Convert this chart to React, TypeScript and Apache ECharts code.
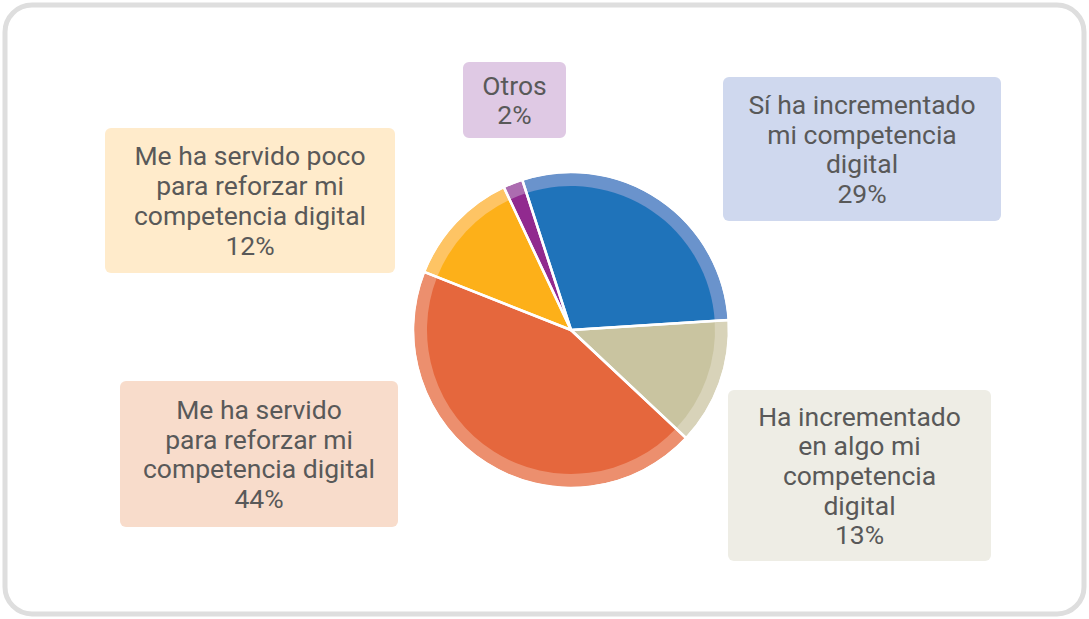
import React, { useEffect, useRef } from "react";
import * as echarts from "echarts";

const categories = [
  "Sí ha incrementado\nmi competencia\ndigital",
  "Ha incrementado\nen algo mi\ncompetencia\ndigital",
  "Me ha servido\npara reforzar mi\ncompetencia digital",
  "Me ha servido poco\npara reforzar mi\ncompetencia digital",
  "Otros",
];
const values = [29, 13, 44, 12, 2];
const mainColors = ["#1F73BA", "#C9C4A0", "#E5673D", "#FDB019", "#912A8F"];
const lightColors = ["#6A93CC", "#D8D3B9", "#EC8F6E", "#FEC464", "#AC6CB0"];
const boxColors = ["#CFD8EE", "#EEEDE5", "#F8DCCB", "#FFEBCB", "#DFC9E4"];
// label box geometry: [centerX, centerY, width, height, textShiftY]
const boxGeom = [
  [862, 149, 278, 144, 4],
  [859.5, 475.5, 263, 171, 3],
  [259, 454, 278, 146, 3],
  [250, 200.5, 290, 145, 4],
  [514.5, 100, 103, 76, 0],
];

const LINE_H = 29.7;

export default function App() {
  const ref = useRef<HTMLDivElement>(null);
  useEffect(() => {
    if (!ref.current) return;
    const chart = echarts.init(ref.current, null, { renderer: "svg" });
    const labelData = categories.map((name, i) => {
      const lines = name.split("\n").length + 1;
      const [, , w, h, s] = boxGeom[i];
      const vpad = Math.max(0, (h - lines * LINE_H) / 2);
      return {
        name,
        value: values[i],
        label: {
          backgroundColor: boxColors[i],
          width: w - 10,
          padding: [vpad + s, 5, vpad - s, 5],
        },
      };
    });
    const lightData = categories.map((name, i) => ({
      name,
      value: values[i],
      itemStyle: { color: lightColors[i] },
    }));
    const mainData = categories.map((name, i) => ({
      name,
      value: values[i],
      itemStyle: { color: mainColors[i] },
    }));
    const common = {
      type: "pie",
      center: [571, 330],
      startAngle: 108,
      clockwise: true,
      silent: true,
      labelLine: { show: false },
    };
    chart.setOption({
      animation: false,
      graphic: [
        {
          type: "rect",
          z: -10,
          shape: { x: 5, y: 5, width: 1079, height: 609, r: 27 },
          style: { fill: "#ffffff", stroke: "#DEDEDE", lineWidth: 5 },
        },
      ],
      series: [
        {
          ...common,
          radius: [0, 157],
          z: 1,
          itemStyle: { borderWidth: 0 },
          label: { show: false },
          data: lightData,
        },
        {
          ...common,
          radius: [0, 144],
          z: 2,
          itemStyle: { borderWidth: 0 },
          label: { show: false },
          data: mainData,
        },
        {
          ...common,
          radius: [0, 158],
          z: 3,
          itemStyle: { color: "rgba(0,0,0,0)", borderColor: "#ffffff", borderWidth: 2.5 },
          label: {
            show: true,
            position: "outside",
            formatter: (p: any) => `${p.name}\n${p.value}%`,
            color: "#595959",
            fontFamily: "Roboto",
            fontSize: 26.5,
            lineHeight: LINE_H,
            align: "center",
            borderRadius: 6,
          },
          labelLayout: (p: any) => {
            const g = boxGeom[p.dataIndex];
            return { x: g[0], y: g[1], align: "center", verticalAlign: "middle" };
          },
          data: labelData,
        },
      ],
    });
    return () => chart.dispose();
  }, []);
  return (
    <div
      ref={ref}
      style={{ position: "absolute", left: 0, top: 0, width: 1089, height: 619 }}
    />
  );
}
